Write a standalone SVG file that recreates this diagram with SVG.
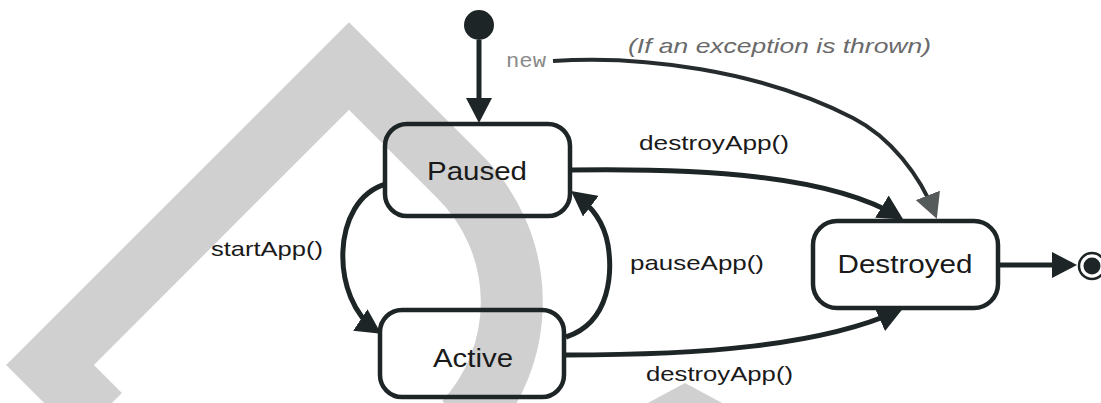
<svg xmlns="http://www.w3.org/2000/svg" width="1101" height="403" viewBox="0 0 1101 403">
  <style>
    .state { fill: none; stroke: #1e2526; stroke-width: 4.5; }
    .name { font-family: "Liberation Sans", Arial, sans-serif; font-size: 25px; fill: #1a1a1a; text-anchor: middle; }
    .label { font-family: "Liberation Sans", Arial, sans-serif; font-size: 21px; fill: #1a1a1a; }
    .edge { fill: none; stroke: #1e2526; stroke-width: 5; }
    .thin { fill: none; stroke: #262c2d; stroke-width: 4; }
    .note { font-family: "Liberation Sans", Arial, sans-serif; font-size: 21px; font-style: italic; fill: #6a6a6a; }
    .code { font-family: "Liberation Mono", "Courier New", monospace; font-size: 21px; fill: #8a8a8a; }
    .band { fill: none; stroke: #d0d0d0; stroke-width: 62; stroke-linejoin: miter; stroke-miterlimit: 10; }
  </style>
  <defs>
    <marker id="arrow" markerUnits="userSpaceOnUse" markerWidth="26" markerHeight="26" viewBox="0 0 26 26" refX="20" refY="13" orient="auto">
      <path d="M0,0 L25,13 L0,26 z" fill="#1e2526"/>
    </marker>
    <marker id="arrow-grey" markerUnits="userSpaceOnUse" markerWidth="26" markerHeight="26" viewBox="0 0 26 26" refX="20" refY="13" orient="auto">
      <path d="M0,0 L25,13 L0,26 z" fill="#555a5b"/>
    </marker>
  </defs>

  <rect width="1101" height="403" fill="#ffffff"/>

  <!-- large grey strokes behind the chart -->
  <path class="band" d="M100,415 L50,365 L349,66 L460,177 A177,177 0 0 1 465,422"/>
  <path d="M646,404 L685,383 L724,404 z" fill="#d0d0d0"/>

  <g id="connectors">
    <!-- initial -> Paused -->
    <path class="edge" d="M479,40 L479,118" marker-end="url(#arrow)"/>
    <!-- new: exception -> Destroyed -->
    <path class="thin" d="M553,61 C640,55 760,70 853,118 C890,137 920,175 935,214" marker-end="url(#arrow-grey)"/>
    <!-- Paused -> Destroyed -->
    <path class="edge" d="M570,170 C700,168 830,175 899,217" marker-end="url(#arrow)"/>
    <!-- Paused -> Active -->
    <path class="edge" d="M386,184 C330,200 330,300 377,331" marker-end="url(#arrow)"/>
    <!-- Active -> Paused -->
    <path class="edge" d="M566,337 C612,322 612,270 608,245 C604,222 592,207 575,194" marker-end="url(#arrow)"/>
    <!-- Active -> Destroyed -->
    <path class="edge" d="M566,355 C700,355 820,346 898,311" marker-end="url(#arrow)"/>
    <!-- Destroyed -> final -->
    <path class="edge" d="M998,265 L1072,265" marker-end="url(#arrow)"/>

    <text class="code" x="506" y="67" textLength="40" lengthAdjust="spacingAndGlyphs">new</text>
    <text class="note" x="628" y="53" textLength="303" lengthAdjust="spacingAndGlyphs">(If an exception is thrown)</text>
    <text class="label" x="639" y="150" textLength="150" lengthAdjust="spacingAndGlyphs">destroyApp()</text>
    <text class="label" x="211" y="256" textLength="112" lengthAdjust="spacingAndGlyphs">startApp()</text>
    <text class="label" x="630" y="270" textLength="134" lengthAdjust="spacingAndGlyphs">pauseApp()</text>
    <text class="label" x="646" y="381" textLength="147" lengthAdjust="spacingAndGlyphs">destroyApp()</text>
  </g>

  <g id="initial">
    <circle cx="479" cy="25" r="15" fill="#1e2526"/>
  </g>

  <g id="paused">
    <rect class="state" x="385" y="124" width="185" height="92" rx="22"/>
    <text class="name" x="477" y="180" textLength="100" lengthAdjust="spacingAndGlyphs">Paused</text>
  </g>

  <g id="active">
    <rect class="state" x="380" y="310" width="184" height="87" rx="22"/>
    <text class="name" x="473" y="367" textLength="80" lengthAdjust="spacingAndGlyphs">Active</text>
  </g>

  <g id="destroyed">
    <rect class="state" x="813" y="221" width="185" height="87" rx="24"/>
    <text class="name" x="905" y="273" textLength="135" lengthAdjust="spacingAndGlyphs">Destroyed</text>
  </g>

  <g id="final">
    <circle cx="1092" cy="266" r="13" fill="none" stroke="#1e2526" stroke-width="2.5"/>
    <circle cx="1092" cy="266" r="8.5" fill="#1e2526"/>
  </g>
</svg>
